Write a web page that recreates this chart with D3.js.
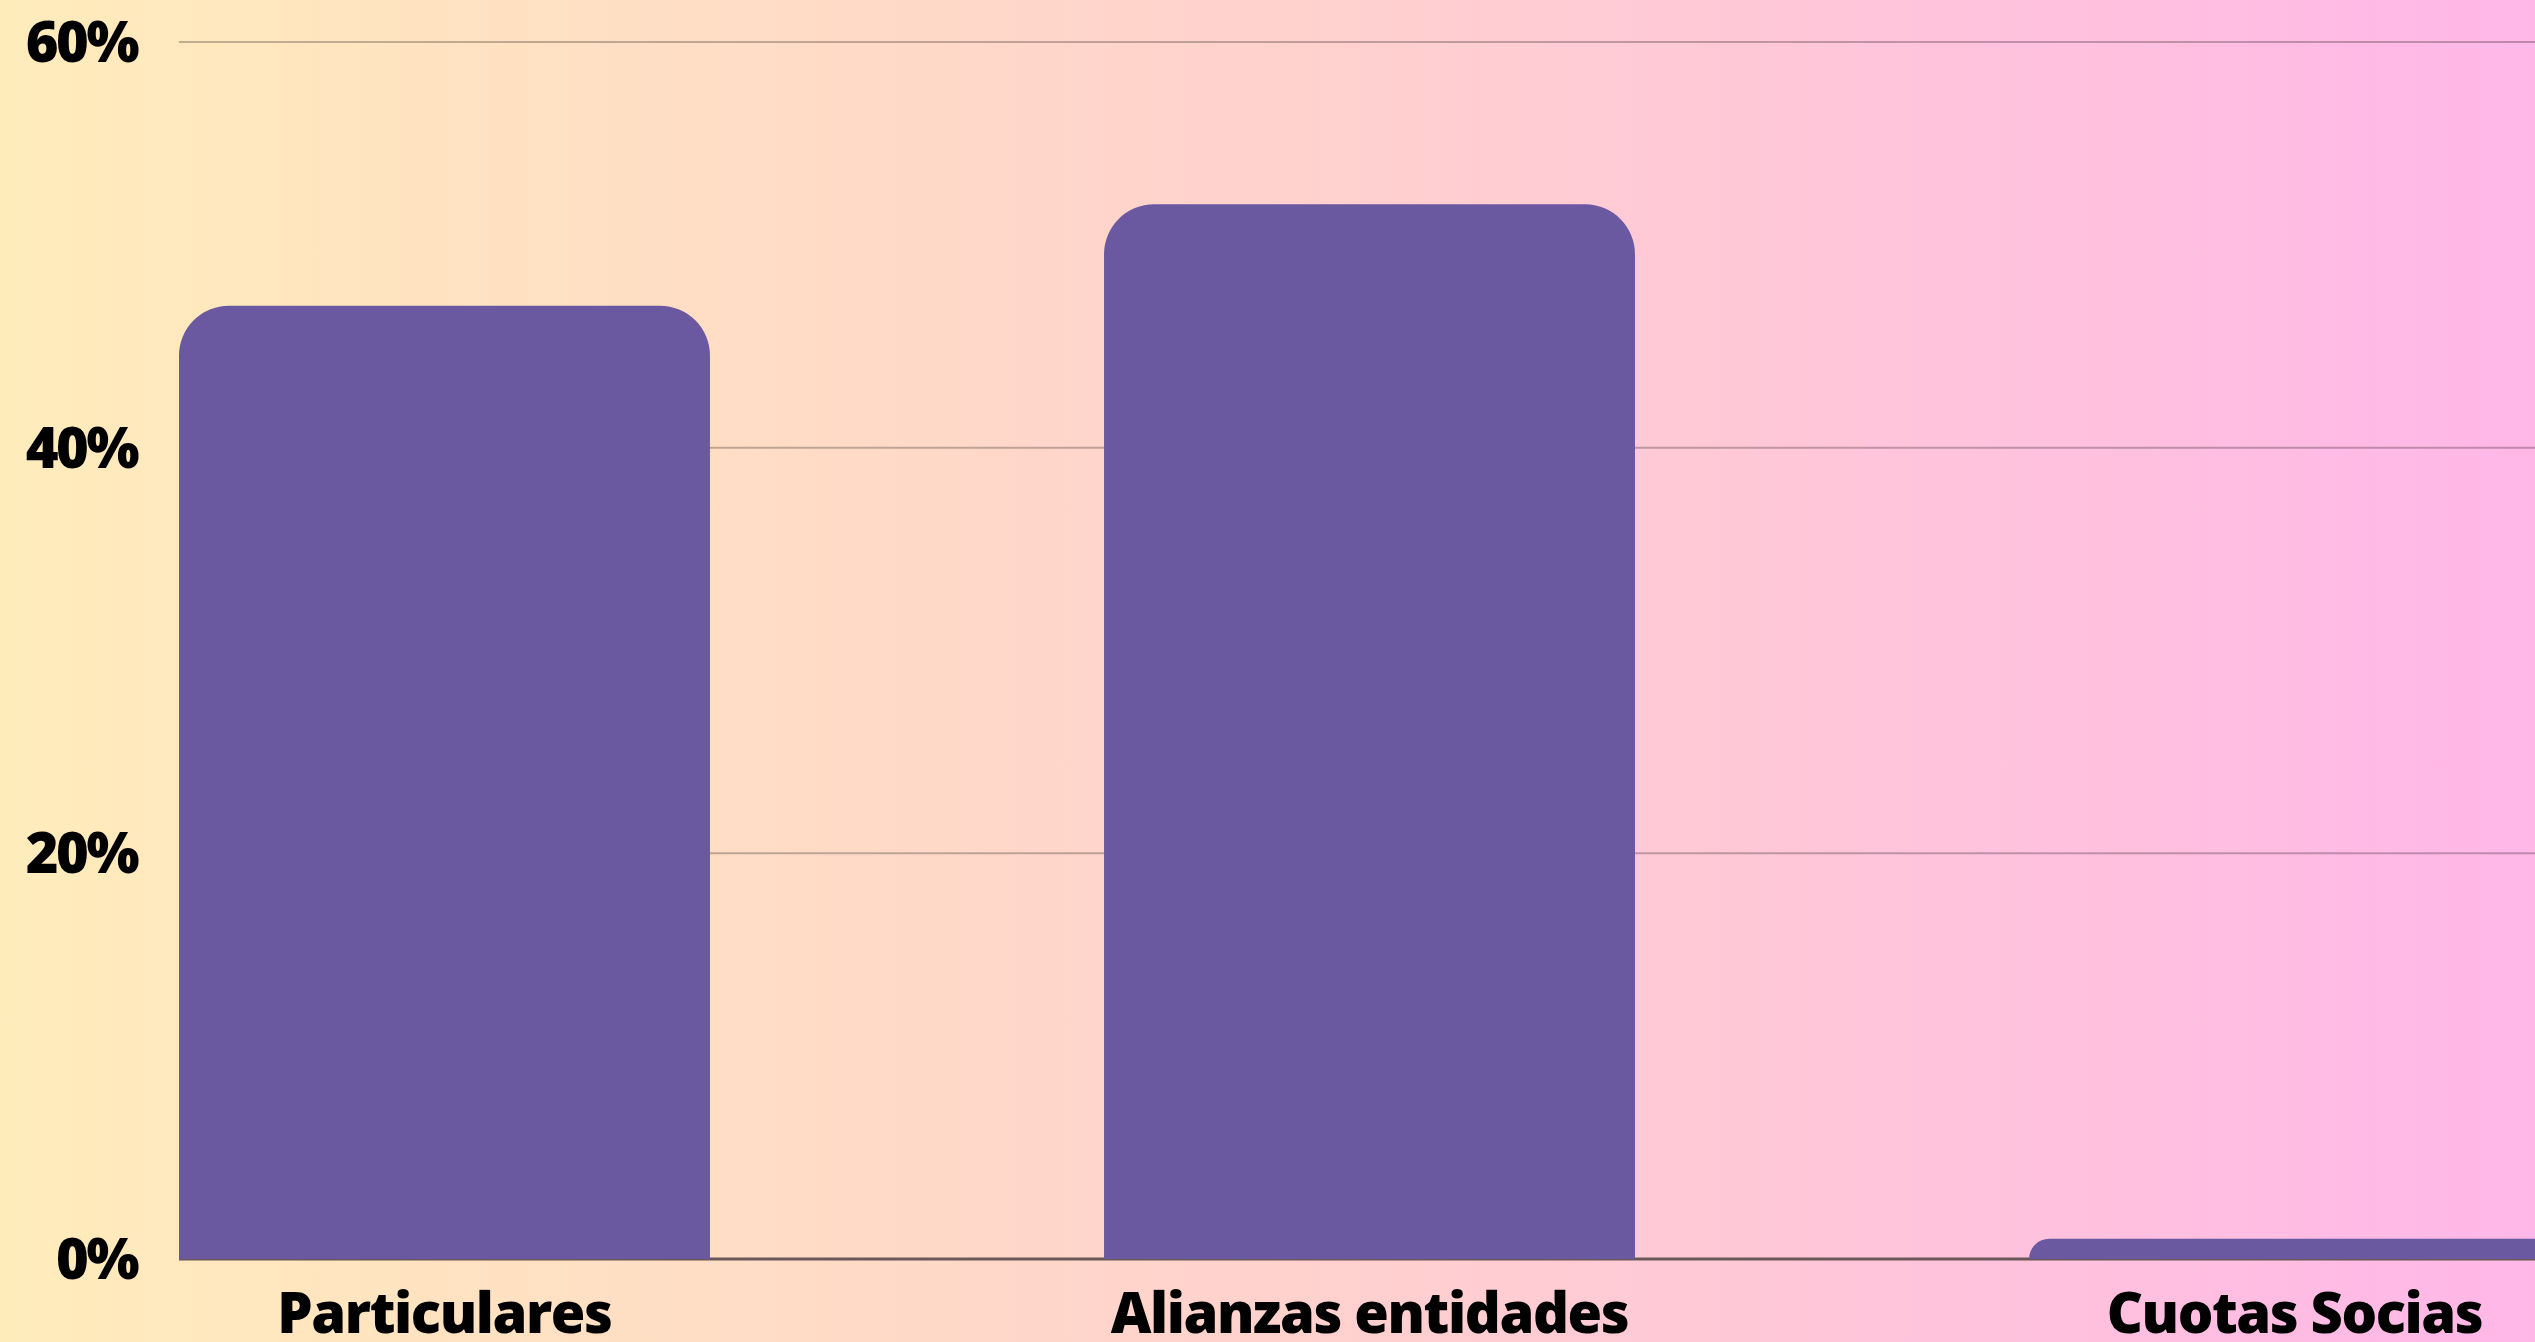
<!DOCTYPE html>
<html>
<head>
<meta charset="utf-8">
<script src="https://cdn.jsdelivr.net/npm/d3@7"></script>
<style>
html,body{margin:0;padding:0;overflow:hidden;}
svg{display:block;}
</style>
</head>
<body>
<script>
const categories = ["Particulares", "Alianzas entidades", "Cuotas Socias"];
const values = [47, 52, 1];
const yTicks = [0, 20, 40, 60];

const W = 2535, H = 1342;
const svg = d3.select("body").append("svg").attr("width", W).attr("height", H);

const defs = svg.append("defs");
const grad = defs.append("linearGradient").attr("id", "bg").attr("x1", "0%").attr("x2", "100%").attr("y1", "0%").attr("y2", "0%");
grad.append("stop").attr("offset", "0%").attr("stop-color", "#ffecbb");
grad.append("stop").attr("offset", "50%").attr("stop-color", "#ffd2cd");
grad.append("stop").attr("offset", "100%").attr("stop-color", "#ffb7e8");
svg.append("rect").attr("width", W).attr("height", H).attr("fill", "url(#bg)");

const x = d3.scaleBand().domain(categories).range([179, 2560]).paddingInner(0.426).paddingOuter(0);
const y = d3.scaleLinear().domain([0, 60]).range([1259, 42]);

const font = "'Open Sans', sans-serif";

// gridlines
svg.append("g").selectAll("line").data(yTicks.filter(d => d > 0)).join("line")
  .attr("x1", 179).attr("x2", W)
  .attr("y1", d => y(d)).attr("y2", d => y(d))
  .attr("stroke", "#000").attr("stroke-opacity", 0.25).attr("stroke-width", 2);

// baseline
svg.append("line").attr("x1", 179).attr("x2", W).attr("y1", y(0)).attr("y2", y(0))
  .attr("stroke", "#6b5858").attr("stroke-width", 3);

// y tick labels
svg.append("g").selectAll("text").data(yTicks).join("text")
  .attr("x", 137).attr("y", d => y(d)).attr("dy", "0.36em")
  .attr("text-anchor", "end")
  .attr("font-family", font).attr("font-weight", 800).attr("font-size", 56)
  .attr("letter-spacing", "-2.5px")
  .attr("fill", "#000")
  .text(d => d + "%");

// bars
function barPath(x0, w, yTop, yBase, R) {
  const h = yBase - yTop;
  const r = Math.min(R, h, w / 2);
  return `M${x0},${yBase}V${yTop + r}A${r},${r} 0 0 1 ${x0 + r},${yTop}H${x0 + w - r}A${r},${r} 0 0 1 ${x0 + w},${yTop + r}V${yBase}Z`;
}
svg.append("g").selectAll("path").data(categories).join("path")
  .attr("d", (c, i) => barPath(x(c), x.bandwidth(), y(values[i]), y(0), 50))
  .attr("fill", "#6a59a1");

// x labels
svg.append("g").selectAll("text").data(categories).join("text")
  .attr("x", c => x(c) + x.bandwidth() / 2).attr("y", 1333)
  .attr("text-anchor", "middle")
  .attr("font-family", font).attr("font-weight", 800).attr("font-size", 56)
  .attr("letter-spacing", "-1.4px")
  .attr("fill", "#000")
  .text(c => c);
</script>
</body>
</html>
